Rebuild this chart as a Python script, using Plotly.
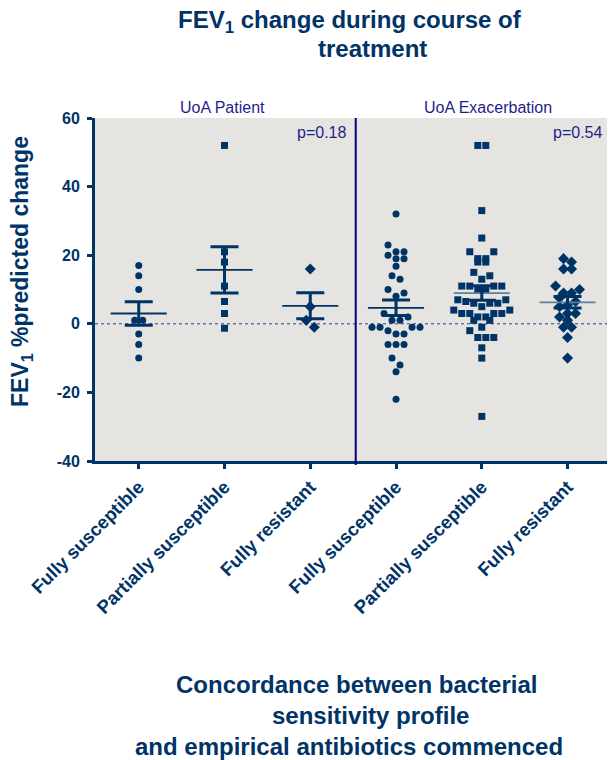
import numpy as np
import plotly.graph_objects as go

# ---------------- data ----------------
categories = ["Fully susceptible", "Partially susceptible", "Fully resistant",
              "Fully susceptible", "Partially susceptible", "Fully resistant"]
panel_names = ["UoA Patient", "UoA Exacerbation"]
p_values = ["p=0.18", "p=0.54"]
y_ticks = [-40, -20, 0, 20, 40, 60]
y_tick_labels = ["-40", "-20", "0", "20", "40", "60"]

patient_fully_susceptible = [17, 14, 10, 1, 1, -3, -6, -10]
patient_partially_susceptible = [52, 21, 18, 11, 6.5, 3, -1.3]
patient_fully_resistant = [16, 5, 1, -1]
exac_fully_susceptible = [32, 23, 21, 21, 20, 19, 19, 16.8, 14, 13, 10, 9, 8, 3, 2, 1, 1,
                          -1, -1, -1, -1, -2, -3, -3, -6, -6, -6, -10, -12, -14, -22]
exac_partially_susceptible = [52, 52, 33, 25, 21, 21, 19, 19, 18, 18, 15, 14, 13, 11, 11, 11, 11,
                              10, 10, 7, 7, 6.5, 6, 6, 6, 5, 4, 4, 3, 3, 3, 3, 2, 2, 1, 1,
                              -1, -2, -4, -4, -4, -7, -10, -27]
exac_fully_resistant = [19, 18, 16, 16, 11, 10, 9, 9, 7.5, 6.5, 5.5, 5, 3, 3, 2, 1, -1, -1, -4, -10]

groups = [patient_fully_susceptible, patient_partially_susceptible, patient_fully_resistant,
          exac_fully_susceptible, exac_partially_susceptible, exac_fully_resistant]
symbols = ["circle", "square", "diamond"] * 2
marker_sizes = [7, 7, 8.5] * 2

# ---------------- layout geometry ----------------
W, H = 608, 760
M = dict(l=95, r=1, t=118, b=299)
plot_w = W - M["l"] - M["r"]
plot_h = H - M["t"] - M["b"]
x_range = [-0.51, 5.46]
y_range = [-40, 60]
px_x = plot_w / (x_range[1] - x_range[0])
px_y = plot_h / (y_range[1] - y_range[0])
divider_x = 2.53

NAVY = "#003366"
BLUE = "#1f1f8c"
FONT = "Liberation Sans, Arial, sans-serif"


def px2paper(px, py):
    return (px - M["l"]) / plot_w, (H - M["b"] - py) / plot_h


def swarm(vals, slot_px=8.0, bin_units=2.2, min_px=6.5):
    """Prism-like row-centred scatter offsets (returned in category units)."""
    order = sorted(range(len(vals)), key=lambda i: -vals[i])
    offsets = [0.0] * len(vals)
    placed = []
    i = 0
    while i < len(order):
        top = vals[order[i]]
        j = i
        while j < len(order) and top - vals[order[j]] < bin_units:
            j += 1
        members = order[i:j]
        n = len(members)
        slots = [(k - (n - 1) / 2) * slot_px for k in range(n)]
        seq, lo, hi, left = [], 0, n - 1, True
        while lo <= hi:
            if left:
                seq.append(lo); lo += 1
            else:
                seq.append(hi); hi -= 1
            left = not left
        best = None
        for s in [0, 4, -4, 8, -8, 12, -12]:
            pts = [(m, slots[si] + s, vals[m] * px_y) for m, si in zip(members, seq)]
            ok = all((x - a) ** 2 + (y - b) ** 2 >= min_px ** 2
                     for (_, x, y) in pts for (a, b) in placed)
            if ok:
                best = pts
                break
        if best is None:
            best = [(m, slots[si], vals[m] * px_y) for m, si in zip(members, seq)]
        for m, x, y in best:
            offsets[m] = x
            placed.append((x, y))
        i = j
    return [o / px_x for o in offsets]


fig = go.Figure()

# points
for k, vals in enumerate(groups):
    offs = swarm(vals)
    fig.add_trace(go.Scatter(
        x=[k + o for o in offs], y=vals, mode="markers",
        marker=dict(symbol=symbols[k], size=marker_sizes[k], color=NAVY,
                    line=dict(width=0)),
        hoverinfo="y", showlegend=False))

# mean and SEM
mean_half = 0.327
for k, vals in enumerate(groups):
    arr = np.array(vals, dtype=float)
    mean = arr.mean()
    sem = arr.std(ddof=1) / np.sqrt(len(arr))
    line_col = NAVY if k < 4 else "#5f7f9f"
    fig.add_trace(go.Scatter(
        x=[k - mean_half, k + mean_half], y=[mean, mean], mode="lines",
        line=dict(color=line_col, width=1.8), hoverinfo="skip", showlegend=False))
    fig.add_trace(go.Scatter(
        x=[k], y=[mean], mode="markers", marker=dict(size=1, opacity=0),
        error_y=dict(type="data", array=[sem], color=NAVY, thickness=3, width=14),
        hoverinfo="skip", showlegend=False))

# zero dotted line
fig.add_shape(type="line", xref="x", yref="y", x0=x_range[0], x1=x_range[1], y0=0, y1=0,
              line=dict(color="#2e3f85", width=1, dash="dot"), layer="below")
# divider
fig.add_shape(type="line", xref="x", yref="paper", x0=divider_x, x1=divider_x, y0=-0.012, y1=1,
              line=dict(color="#00007f", width=2))

annotations = []


def add_text(text, px, py, size, color, xanchor="center", bold=True, angle=0):
    xp, yp = px2paper(px, py)
    annotations.append(dict(
        text=text, x=xp, y=yp, xref="paper", yref="paper", showarrow=False,
        xanchor=xanchor, yanchor="middle", textangle=angle,
        font=dict(family=FONT, size=size, color=color, weight="bold" if bold else "normal")))


# title
add_text("FEV<sub>1</sub> change during course of", 350, 21, 24, NAVY)
add_text("treatment", 372, 48, 24, NAVY)
# x title lines
add_text("Concordance between bacterial", 356, 684, 24, NAVY)
add_text("sensitivity profile", 370, 715, 24, NAVY)
add_text("and empirical antibiotics commenced", 349, 746, 24, NAVY)
# y title
add_text("FEV<sub>1</sub> %predicted change", 21, 272, 23, NAVY, angle=-90)
# panel labels and p-values
add_text(panel_names[0], 222, 108, 16, BLUE, bold=False)
add_text(panel_names[1], 488, 108, 16, BLUE, bold=False)
add_text(p_values[0], 348, 132, 16, BLUE, xanchor="right", bold=False)
add_text(p_values[1], 604, 132, 16, BLUE, xanchor="right", bold=False)

fig.update_layout(
    width=W, height=H, margin=M,
    paper_bgcolor="white", plot_bgcolor="#e6e4e0",
    annotations=annotations, showlegend=False,
    font=dict(family=FONT, color=NAVY),
)
fig.update_xaxes(
    range=x_range, tickvals=list(range(len(categories))), ticktext=categories,
    tickangle=-45, tickfont=dict(family=FONT, size=18.5, color=NAVY, weight="bold"),
    showgrid=False, zeroline=False, showline=True, linecolor=NAVY, linewidth=3,
    ticks="outside", ticklen=5, tickwidth=3, tickcolor=NAVY,
)
fig.update_yaxes(
    range=y_range, tickvals=y_ticks, ticktext=y_tick_labels,
    tickfont=dict(family=FONT, size=16, color=NAVY, weight="bold"),
    showgrid=False, zeroline=False, showline=True, linecolor=NAVY, linewidth=3,
    ticks="outside", ticklen=5, tickwidth=3, tickcolor=NAVY, ticklabelstandoff=4,
)

fig.write_html("out.html", config={"displayModeBar": False},
               post_script="document.body.style.margin='0';document.body.style.overflow='hidden';")
